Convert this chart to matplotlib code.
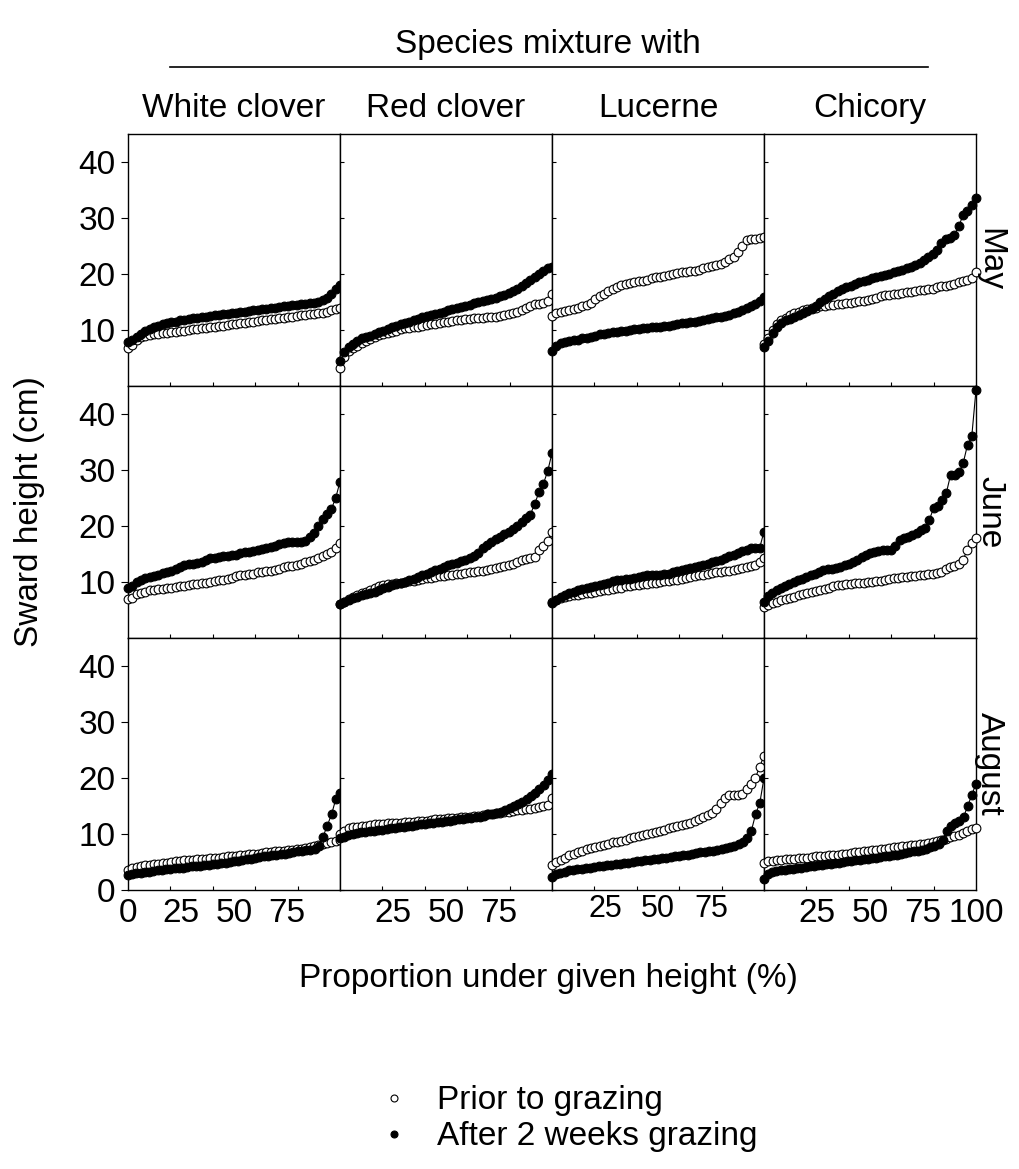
import numpy as np
import matplotlib.pyplot as plt
from matplotlib.lines import Line2D

plt.rcParams['font.family'] = ['Liberation Sans', 'DejaVu Sans']

W, H = 1020, 1169

species = ["White clover", "Red clover", "Lucerne", "Chicory"]
months = ["May", "June", "August"]

# ---------------------------------------------------------------
# sward heights (cm), sorted
# May
may_white_prior = [6.8, 7.3, 8.2, 8.7, 9.0, 9.1, 9.2, 9.3, 9.4, 9.5, 9.6, 9.7, 9.8, 9.9, 10.0,
                   10.1, 10.2, 10.3, 10.4, 10.5, 10.6, 10.7, 10.8, 10.9, 11.0, 11.1, 11.2, 11.3,
                   11.4, 11.5, 11.6, 11.7, 11.8, 11.9, 12.0, 12.1, 12.2, 12.3, 12.4, 12.5, 12.6,
                   12.7, 12.8, 12.9, 13.0, 13.1, 13.3, 13.5, 13.7, 14.0]
may_white_after = [7.9, 8.2, 8.8, 9.3, 9.8, 10.2, 10.5, 10.8, 11.0, 11.2, 11.4, 11.5, 11.7, 11.8,
                   12.0, 12.1, 12.2, 12.3, 12.4, 12.5, 12.6, 12.7, 12.8, 12.9, 13.0, 13.1, 13.2,
                   13.3, 13.4, 13.5, 13.6, 13.7, 13.8, 13.9, 14.0, 14.1, 14.2, 14.3, 14.4, 14.5,
                   14.6, 14.7, 14.8, 14.9, 15.0, 15.3, 15.8, 16.5, 17.3, 18.0]
may_red_prior = [3.3, 5.2, 6.2, 6.8, 7.2, 7.6, 8.0, 8.4, 8.8, 9.1, 9.3, 9.5, 9.7, 9.9, 10.1, 10.3,
                 10.4, 10.5, 10.6, 10.7, 10.9, 11.0, 11.1, 11.3, 11.4, 11.5, 11.6, 11.7, 11.8,
                 11.9, 12.0, 12.1, 12.1, 12.2, 12.3, 12.4, 12.4, 12.5, 12.6, 12.8, 13.0, 13.3,
                 13.6, 14.0, 14.3, 14.6, 14.7, 14.8, 15.2, 16.4]
may_red_after = [4.5, 6.0, 7.0, 7.5, 8.0, 8.5, 8.8, 9.0, 9.3, 9.6, 9.9, 10.2, 10.5, 10.8, 11.0,
                 11.2, 11.4, 11.7, 12.0, 12.3, 12.5, 12.7, 12.9, 13.1, 13.3, 13.5, 13.7, 13.9,
                 14.1, 14.3, 14.5, 14.8, 15.0, 15.2, 15.4, 15.6, 15.8, 16.0, 16.3, 16.6, 17.0,
                 17.4, 17.9, 18.4, 18.9, 19.5, 20.0, 20.5, 21.0, 21.3]
may_luc_prior = [12.5, 13.0, 13.2, 13.4, 13.6, 13.8, 14.0, 14.2, 14.5, 14.9, 15.5, 16.0, 16.5,
                 17.0, 17.3, 17.7, 18.0, 18.2, 18.4, 18.6, 18.7, 18.8, 19.0, 19.2, 19.4, 19.5,
                 19.7, 19.8, 20.0, 20.2, 20.3, 20.4, 20.5, 20.6, 20.8, 21.0, 21.2, 21.4, 21.6,
                 21.8, 22.2, 22.6, 23.0, 24.0, 25.0, 26.0, 26.2, 26.3, 26.4, 26.6]
may_luc_after = [6.2, 7.2, 7.7, 7.9, 8.1, 8.2, 8.3, 8.5, 8.6, 8.8, 9.0, 9.2, 9.3, 9.4, 9.6, 9.7,
                 9.8, 9.9, 10.0, 10.1, 10.2, 10.3, 10.4, 10.5, 10.5, 10.6, 10.7, 10.8, 10.9, 11.0,
                 11.2, 11.3, 11.4, 11.5, 11.6, 11.7, 11.9, 12.1, 12.3, 12.4, 12.5, 12.7, 13.0,
                 13.3, 13.6, 14.0, 14.3, 14.7, 15.2, 15.9]
may_chic_prior = [7.5, 8.5, 10.0, 11.0, 11.7, 12.2, 12.6, 13.0, 13.3, 13.5, 13.7, 13.9, 14.0,
                  14.2, 14.3, 14.4, 14.5, 14.6, 14.7, 14.8, 14.9, 15.0, 15.1, 15.2, 15.3, 15.5,
                  15.8, 16.0, 16.2, 16.3, 16.4, 16.5, 16.6, 16.7, 16.8, 17.0, 17.1, 17.2, 17.3,
                  17.4, 17.6, 17.8, 17.9, 18.0, 18.2, 18.5, 18.7, 19.0, 19.3, 20.4]
may_chic_after = [7.0, 8.0, 9.5, 10.5, 11.2, 11.7, 12.0, 12.3, 12.6, 13.0, 13.4, 13.8, 14.3,
                  15.0, 15.5, 16.0, 16.5, 17.0, 17.3, 17.6, 17.9, 18.2, 18.5, 18.8, 19.0, 19.2,
                  19.4, 19.6, 19.8, 20.0, 20.3, 20.5, 20.7, 21.0, 21.3, 21.6, 22.0, 22.5, 23.0,
                  23.5, 24.3, 25.5, 26.2, 26.5, 27.0, 28.5, 30.5, 31.3, 32.3, 33.5]

# June
jun_white_prior = [6.9, 7.2, 7.8, 8.1, 8.3, 8.5, 8.6, 8.7, 8.8, 8.9, 9.0, 9.1, 9.2, 9.3, 9.4,
                   9.6, 9.7, 9.8, 9.9, 10.0, 10.1, 10.3, 10.4, 10.6, 10.8, 11.0, 11.2, 11.3,
                   11.4, 11.5, 11.7, 11.8, 11.9, 12.0, 12.2, 12.4, 12.6, 12.8, 12.9, 13.1, 13.3,
                   13.5, 13.7, 14.0, 14.3, 14.6, 15.0, 15.4, 16.0, 17.0]
jun_white_after = [9.0, 9.3, 10.0, 10.4, 10.7, 10.9, 11.1, 11.3, 11.6, 11.8, 12.0, 12.3, 12.6,
                   13.0, 13.2, 13.3, 13.4, 13.6, 13.9, 14.2, 14.3, 14.5, 14.6, 14.7, 14.8, 14.9,
                   15.1, 15.3, 15.4, 15.6, 15.8, 15.9, 16.1, 16.2, 16.4, 16.7, 17.0, 17.1, 17.1,
                   17.1, 17.1, 17.3, 18.0, 18.8, 20.0, 21.2, 22.2, 23.0, 25.0, 27.9]
jun_red_prior = [6.0, 6.5, 7.0, 7.4, 7.7, 8.0, 8.3, 8.6, 8.9, 9.2, 9.4, 9.6, 9.7, 9.8, 9.9, 10.0,
                 10.1, 10.2, 10.4, 10.6, 10.7, 10.8, 10.9, 11.0, 11.1, 11.2, 11.3, 11.4, 11.5,
                 11.6, 11.7, 11.8, 11.9, 12.0, 12.1, 12.3, 12.5, 12.7, 12.9, 13.1, 13.3, 13.6,
                 13.9, 14.1, 14.3, 14.5, 15.7, 16.4, 17.3, 18.9]
jun_red_after = [6.0, 6.4, 6.8, 7.1, 7.4, 7.6, 7.8, 8.0, 8.3, 8.6, 8.9, 9.1, 9.4, 9.6, 9.8, 10.0,
                 10.3, 10.6, 10.9, 11.2, 11.5, 11.8, 12.1, 12.4, 12.7, 13.0, 13.2, 13.4, 13.7,
                 14.0, 14.3, 14.6, 15.2, 16.0, 16.6, 17.2, 17.6, 18.0, 18.6, 19.0, 19.5, 20.0,
                 20.7, 21.5, 22.0, 24.0, 26.0, 27.5, 29.8, 33.0]
jun_luc_prior = [6.5, 6.8, 7.1, 7.3, 7.5, 7.6, 7.7, 7.8, 8.0, 8.1, 8.2, 8.4, 8.5, 8.6, 8.8, 8.9,
                 9.0, 9.2, 9.3, 9.4, 9.5, 9.6, 9.7, 9.8, 9.9, 10.0, 10.1, 10.2, 10.3, 10.4, 10.5,
                 10.7, 10.9, 11.0, 11.2, 11.3, 11.4, 11.6, 11.7, 11.8, 11.9, 12.0, 12.1, 12.3,
                 12.5, 12.7, 12.9, 13.1, 13.5, 14.2]
jun_luc_after = [6.2, 6.8, 7.3, 7.7, 8.0, 8.3, 8.5, 8.7, 8.9, 9.1, 9.3, 9.5, 9.7, 9.9, 10.1, 10.3,
                 10.4, 10.5, 10.6, 10.7, 10.9, 11.1, 11.3, 11.3, 11.3, 11.3, 11.4, 11.5, 11.7,
                 11.9, 12.1, 12.3, 12.5, 12.7, 12.9, 13.1, 13.3, 13.5, 13.8, 14.0, 14.3, 14.6,
                 14.9, 15.2, 15.5, 15.8, 16.1, 16.1, 16.1, 19.0]
jun_chic_prior = [5.5, 5.9, 6.2, 6.5, 6.8, 7.0, 7.2, 7.4, 7.6, 7.8, 8.0, 8.2, 8.4, 8.6, 8.8, 9.0,
                  9.2, 9.4, 9.5, 9.6, 9.7, 9.8, 9.9, 9.9, 10.0, 10.0, 10.1, 10.2, 10.4, 10.6,
                  10.7, 10.8, 10.9, 10.9, 11.0, 11.1, 11.2, 11.3, 11.4, 11.5, 11.6, 11.7, 12.3,
                  12.7, 12.9, 13.3, 14.0, 15.7, 17.0, 17.9]
jun_chic_after = [6.4, 7.5, 8.0, 8.5, 9.0, 9.3, 9.6, 10.0, 10.3, 10.6, 10.9, 11.2, 11.5, 11.8,
                  12.1, 12.3, 12.4, 12.5, 12.7, 13.0, 13.3, 13.6, 14.0, 14.4, 14.8, 15.2, 15.4,
                  15.6, 15.7, 15.7, 15.8, 16.5, 17.5, 17.8, 18.1, 18.4, 18.8, 19.3, 19.6, 21.1,
                  23.2, 23.6, 24.6, 25.9, 29.1, 29.1, 29.6, 31.3, 34.5, 36.0, 44.3]

# August
aug_white_prior = [3.5, 3.9, 4.1, 4.3, 4.4, 4.5, 4.6, 4.7, 4.8, 4.9, 5.0, 5.1, 5.2, 5.3, 5.3,
                   5.4, 5.5, 5.5, 5.6, 5.7, 5.8, 5.8, 5.9, 6.0, 6.0, 6.1, 6.2, 6.3, 6.4, 6.5, 6.5,
                   6.6, 6.7, 6.8, 6.9, 7.0, 7.0, 7.1, 7.2, 7.3, 7.4, 7.5, 7.6, 7.8, 8.0, 8.2, 8.4,
                   8.6, 8.8, 9.0]
aug_white_after = [2.7, 2.9, 3.0, 3.1, 3.2, 3.3, 3.4, 3.5, 3.6, 3.7, 3.8, 3.9, 4.0, 4.0, 4.1,
                   4.2, 4.3, 4.3, 4.4, 4.5, 4.6, 4.7, 4.8, 4.9, 5.0, 5.1, 5.2, 5.3, 5.5, 5.6, 5.8,
                   5.9, 6.0, 6.1, 6.2, 6.3, 6.4, 6.5, 6.6, 6.8, 6.9, 7.0, 7.1, 7.2, 7.4, 7.8, 9.5,
                   11.5, 13.5, 16.2, 17.3]
aug_red_prior = [10.0, 10.6, 11.0, 11.2, 11.3, 11.4, 11.5, 11.6, 11.7, 11.7, 11.8, 11.9, 11.9,
                 12.0, 12.0, 12.1, 12.2, 12.2, 12.3, 12.4, 12.4, 12.5, 12.6, 12.6, 12.7, 12.8,
                 12.8, 12.9, 13.0, 13.0, 13.1, 13.2, 13.3, 13.4, 13.5, 13.6, 13.7, 13.8, 13.9,
                 14.0, 14.1, 14.2, 14.3, 14.4, 14.5, 14.6, 14.8, 15.0, 15.2, 16.4]
aug_red_after = [9.2, 9.5, 9.8, 10.0, 10.2, 10.3, 10.4, 10.5, 10.6, 10.7, 10.8, 10.9, 11.0,
                 11.1, 11.2, 11.3, 11.4, 11.5, 11.6, 11.7, 11.8, 11.9, 12.0, 12.1, 12.2, 12.3,
                 12.4, 12.5, 12.6, 12.7, 12.8, 12.9, 13.0, 13.1, 13.3, 13.5, 13.6, 13.8, 14.0,
                 14.3, 14.6, 15.0, 15.4, 15.8, 16.3, 16.8, 17.4, 18.0, 18.8, 19.6, 20.8]
aug_luc_prior = [4.5, 5.0, 5.4, 5.8, 6.2, 6.5, 6.8, 7.0, 7.3, 7.5, 7.7, 7.9, 8.1, 8.3, 8.5, 8.6,
                 8.8, 9.0, 9.2, 9.4, 9.6, 9.8, 10.0, 10.2, 10.4, 10.6, 10.8, 11.0, 11.2, 11.4,
                 11.6, 11.8, 12.0, 12.3, 12.6, 13.0, 13.4, 13.8, 14.5, 15.5, 16.5, 17.0, 17.0,
                 17.0, 17.2, 18.0, 19.0, 20.0, 22.0, 24.0]
aug_luc_after = [2.3, 2.8, 3.1, 3.3, 3.5, 3.6, 3.7, 3.8, 3.9, 4.0, 4.1, 4.2, 4.3, 4.4, 4.5, 4.6,
                 4.7, 4.8, 4.9, 5.0, 5.1, 5.2, 5.3, 5.4, 5.5, 5.6, 5.7, 5.8, 5.9, 6.0, 6.1, 6.2,
                 6.3, 6.4, 6.6, 6.7, 6.8, 6.9, 7.0, 7.1, 7.3, 7.5, 7.7, 7.9, 8.2, 8.6, 9.3,
                 10.5, 13.5, 15.5, 20.0]
aug_chic_prior = [4.8, 5.1, 5.2, 5.3, 5.4, 5.5, 5.6, 5.6, 5.7, 5.8, 5.8, 5.9, 6.0, 6.0, 6.1,
                  6.2, 6.2, 6.3, 6.4, 6.5, 6.6, 6.7, 6.8, 6.9, 7.0, 7.1, 7.2, 7.3, 7.4, 7.5, 7.6,
                  7.7, 7.8, 7.9, 8.0, 8.1, 8.2, 8.3, 8.4, 8.5, 8.7, 8.9, 9.1, 9.4, 9.6, 9.8,
                  10.2, 10.5, 10.9, 11.0]
aug_chic_after = [2.0, 2.8, 3.2, 3.4, 3.5, 3.6, 3.7, 3.8, 3.9, 4.0, 4.1, 4.2, 4.3, 4.4, 4.5,
                  4.6, 4.7, 4.8, 4.9, 5.0, 5.1, 5.2, 5.3, 5.4, 5.5, 5.6, 5.7, 5.8, 5.9, 6.0, 6.1,
                  6.2, 6.3, 6.5, 6.6, 6.8, 6.9, 7.0, 7.2, 7.4, 7.6, 7.8, 8.3, 9.0, 10.5, 11.5,
                  12.0, 12.3, 13.0, 15.0, 17.0, 19.0]

y_ticks = [10, 20, 30, 40]
x_ticks = [20, 40, 60, 80]
x_labels = {
    0: ["0", "25", "50", "75"],
    1: ["25", "50", "75"],
    2: ["25", "50", "75"],
    3: ["25", "50", "75", "100"],
}

panels = {
    ("May", 0): (may_white_prior, may_white_after),
    ("May", 1): (may_red_prior, may_red_after),
    ("May", 2): (may_luc_prior, may_luc_after),
    ("May", 3): (may_chic_prior, may_chic_after),
    ("June", 0): (jun_white_prior, jun_white_after),
    ("June", 1): (jun_red_prior, jun_red_after),
    ("June", 2): (jun_luc_prior, jun_luc_after),
    ("June", 3): (jun_chic_prior, jun_chic_after),
    ("August", 0): (aug_white_prior, aug_white_after),
    ("August", 1): (aug_red_prior, aug_red_after),
    ("August", 2): (aug_luc_prior, aug_luc_after),
    ("August", 3): (aug_chic_prior, aug_chic_after),
}

# =========================
fig = plt.figure(figsize=(W / 100, H / 100), dpi=100)

left0, col_w = 128, 212
top0, row_h = 134, 252
fs = 24
ms = 6.3


def fx(px):
    return px / W


def fy(py):
    return 1 - py / H


for r, month in enumerate(months):
    for c, sp in enumerate(species):
        ax = fig.add_axes([fx(left0 + c * col_w), fy(top0 + (r + 1) * row_h),
                           fx(col_w), row_h / H])
        prior, after = panels[(month, c)]
        x_p = np.linspace(0, 100, len(prior))
        x_a = np.linspace(0, 100, len(after))
        ax.plot(x_p, prior, color="black", lw=0.8, marker="o", ms=ms,
                mfc="white", mec="black", mew=0.8, clip_on=False, zorder=3)
        ax.plot(x_a, after, color="black", lw=0.8, marker="o", ms=ms,
                mfc="black", mec="black", mew=0.8, clip_on=False, zorder=4)
        ax.set_xlim(0, 100)
        ax.set_ylim(0, 45)
        for s in ax.spines.values():
            s.set_linewidth(1.0)

        ax.set_xticks(x_ticks)
        ax.set_xticklabels([])
        ax.tick_params(axis="x", which="major", direction="in", length=3, width=0.8)
        if r == 2:
            lab = x_labels[c]
            pos = [float(v) for v in lab]
            ax.set_xticks(pos, minor=True)
            ax.set_xticklabels(lab, minor=True)
            # the Lucerne labels sit a bit higher and smaller in the original
            if c == 2:
                ax.tick_params(axis="x", which="minor", length=0, labelsize=fs - 2, pad=3)
            else:
                ax.tick_params(axis="x", which="minor", length=0, labelsize=fs, pad=6)

        ax.set_yticks(y_ticks if r < 2 else [0] + y_ticks)
        if c == 0:
            ax.tick_params(axis="y", direction="out", length=5, width=0.8,
                           labelsize=fs, pad=4)
        else:
            ax.set_yticklabels([])
            ax.tick_params(axis="y", direction="in", length=3, width=0.8)

        if r == 0:
            ax.set_title(sp, fontsize=fs, pad=12)
        if c == 3:
            ax.text(1.065, 0.5, month, transform=ax.transAxes, rotation=270,
                    ha="center", va="center", fontsize=fs)

# titles and labels
fig.text(fx(548), fy(45), "Species mixture with", ha="center", va="center", fontsize=fs)
fig.add_artist(Line2D([fx(170), fx(928)], [fy(67), fy(67)], color="black", lw=1.2))
fig.text(fx(30), fy(top0 + 1.5 * row_h), "Sward height (cm)", rotation=90,
         ha="center", va="center", fontsize=fs)
fig.text(fx(548), fy(978), "Proportion under given height (%)", ha="center",
         va="center", fontsize=fs)

# legend
handles = [Line2D([], [], ls="none", marker="o", ms=5.0, mfc="white", mec="black", mew=0.8),
           Line2D([], [], ls="none", marker="o", ms=5.0, mfc="black", mec="black", mew=0.8)]
fig.legend(handles, ["Prior to grazing", "After 2 weeks grazing"], loc="upper left",
           bbox_to_anchor=(fx(364), fy(1072)), frameon=False, fontsize=fs,
           handlelength=1.0, handletextpad=0.8, labelspacing=0.15, borderaxespad=0)

fig.savefig("out.png", dpi=100)
